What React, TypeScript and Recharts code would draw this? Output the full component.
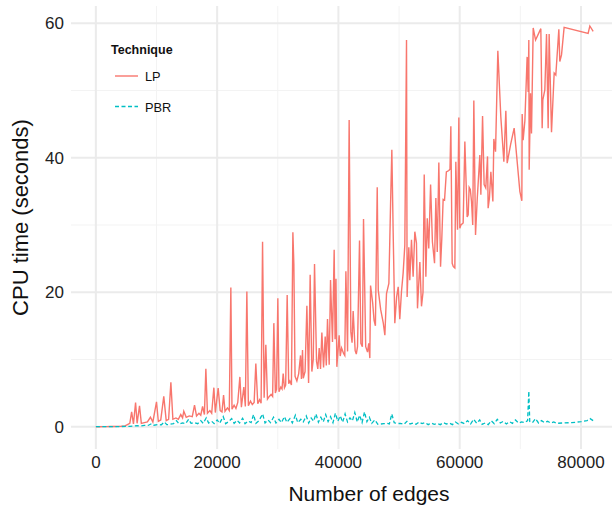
import { LineChart, Line, XAxis, YAxis, CartesianGrid, Legend } from 'recharts'

const FONT = '"Liberation Sans", Arial, Helvetica, sans-serif'
const LP_COLOR = '#F8766D'
const PBR_COLOR = '#00BFC4'

// LP: number of edges vs CPU seconds
const lpEdges = [
  0, 600, 1200, 1800, 2400, 3000, 3600, 4200, 4800, 5200, 5600, 5900, 6200, 6550, 6800, 7200, 7500, 8000, 8500, 9000,
  9400, 10000, 10300, 10700, 11200, 11600, 12000, 12370, 12700, 13200, 13600, 14000, 14300, 14500, 14900, 15400, 15900,
  16270, 16600, 17000, 17300, 17600, 17900, 18140, 18400, 18800, 19100, 19460, 19700, 20170, 20500, 20800, 21060, 21300,
  21700, 22000, 22260, 22450, 22800, 23100, 23400, 23750, 24000, 24400, 24650, 24900, 25150, 25500, 25800, 26100, 26380,
  26700, 27000, 27250, 27490, 27750, 28030, 28300, 28600, 28900, 29150, 29350, 29600, 29800, 30010, 30200, 30500, 30700,
  30890, 31100, 31300, 31550, 31800, 32000, 32250, 32490, 32650, 32850, 33150, 33450, 33750, 33900, 34080, 34200, 34500,
  34800, 35080, 35340, 35620, 35850, 36060, 36390, 36600, 36830, 37050, 37270, 37550, 37820, 38000, 38200, 38480, 38700,
  39020, 39300, 39450, 39600, 39740, 40120, 40300, 40520, 40850, 41050, 41230, 41510, 41770, 42050, 42250, 42430, 42760,
  42950, 43150, 43480, 43700, 43950, 44140, 44500, 44800, 45000, 45180, 45300, 45650, 45880, 46100, 46400, 46570, 46970,
  47400, 47660, 47930, 48320, 48600, 48810, 49030, 49300, 49600, 49860, 50120, 50400, 50670, 50950, 51230, 51330, 51610,
  51770, 52050, 52320, 52600, 52870, 53040, 53430, 53700, 53950, 54150, 54420, 54650, 54900, 55200, 55500, 55850, 56070,
  56300, 56560, 56840, 57050, 57270, 57500, 57800, 58210, 58400, 58540, 58760, 58950, 59200, 59360, 59640, 59860, 60020,
  60200, 60570, 60850, 61230, 61400, 61560, 61750, 61950, 62150, 62330, 62610, 62900, 63320, 63490, 63770, 64030, 64300,
  64590, 64690, 64900, 65140, 65470, 65630, 65910, 66290, 66780, 67280, 67610, 67830, 68400, 68980, 69920, 70250, 70300,
  70460, 70750, 71120, 71290, 71400, 71460, 71680, 71840, 72120, 72510, 73380, 73600, 73710, 74040, 74320, 74590, 74750,
  75140, 75580, 75850, 76350, 76510, 76790, 77220, 81180, 81460, 82010,
]
const lpSeconds = [
  0, 0, 0.01, 0.01, 0.02, 0.03, 0.05, 0.07, 0.12, 0.3, 0.5, 2.2, 0.4, 3.6, 0.5, 3.1, 0.5, 0.6, 0.7, 1.4,
  0.7, 3.7, 0.8, 1.0, 4.5, 0.9, 1.1, 6.6, 1.1, 1.3, 1.1, 1.8, 1.3, 2.3, 1.4, 1.6, 1.5,
  3.2, 1.6, 2.0, 1.7, 3.0, 1.8, 8.6, 2.0, 2.4, 2.0, 5.8, 2.1, 5.75, 2.4, 2.2, 4.7, 2.3,
  2.8, 2.4, 20.7, 2.6, 3.2, 2.7, 3.6, 7.4, 2.9, 5.9, 3.0, 20.1, 3.1, 3.8, 3.3, 3.6, 9.4,
  3.4, 4.0, 3.5, 27.5, 4.3, 12.2, 4.1, 4.5, 4.8, 4.5, 15.4, 5.0, 5.6, 19.1, 5.2, 5.9, 5.6,
  7.9, 5.8, 6.2, 19.6, 6.4, 6.8, 6.2, 28.9, 24.2, 7.5, 6.8, 7.9, 10.6, 7.1, 11.4, 7.2, 8.2,
  18.0, 6.5, 22.6, 8.2, 10.0, 24.2, 9.7, 8.6, 11.7, 8.6, 14.0, 8.8, 13.4, 9.1, 16.0, 9.2, 21.8,
  12.6, 26.3, 13.0, 22.0, 8.9, 13.6, 10.5, 11.7, 10.9, 10.6, 23.1, 11.2, 45.6, 14.1, 12.5, 17.2, 11.3,
  10.8, 11.9, 27.7, 12.4, 11.9, 30.9, 11.9, 11.1, 12.4, 10.2, 21.0, 18.4, 15.8, 15.0, 35.6, 20.3, 17.4,
  15.4, 13.6, 19.8, 21.3, 33.1, 41.2, 28.8, 15.4, 19.3, 20.8, 16.0, 20.1, 22.8, 27.0, 57.5, 19.3, 26.7,
  21.8, 27.8, 22.3, 29.0, 27.3, 17.6, 24.5, 17.9, 20.0, 37.5, 22.3, 31.0, 26.5, 36.0, 27.5, 24.3, 34.0,
  26.0, 39.3, 23.8, 28.0, 33.8, 33.7, 37.9, 38.1, 38.3, 44.7, 24.3, 23.8, 23.6, 39.4, 29.3, 46.0, 29.5,
  30.0, 30.3, 42.4, 31.2, 31.5, 35.6, 35.3, 33.5, 30.0, 48.5, 28.5, 34.0, 40.4, 34.5, 46.2, 36.0, 35.5,
  40.2, 32.5, 34.0, 37.9, 33.5, 42.8, 40.9, 55.9, 46.1, 39.4, 47.0, 39.2, 42.0, 44.4, 35.0, 33.6, 46.5,
  42.6, 45.5, 55.0, 49.8, 57.5, 38.2, 49.6, 43.6, 59.3, 57.5, 59.2, 44.4, 48.6, 50.1, 58.4, 44.4, 58.4,
  43.8, 52.6, 52.3, 59.1, 54.3, 55.3, 59.4, 58.5, 59.6, 58.8,
]

// PBR: number of edges vs CPU seconds
const pbrEdges = [
  0, 1000, 2000, 3000, 4000, 5000, 5600, 6200, 6800, 7400, 8000, 8600, 9200, 9600, 10200, 10800, 11300, 11700, 12200,
  12800, 13300, 13700, 14300, 14800, 15300, 15700, 16300, 16800, 17300, 17700, 18200, 18600, 19100, 19500, 20000, 20400,
  21000, 21400, 21900, 22400, 22800, 23300, 23700, 24200, 24600, 25100, 25600, 26000, 26400, 26900, 27500, 27900, 28400,
  28800, 29300, 29700, 30200, 30600, 31100, 31500, 32000, 32400, 32900, 33300, 33800, 34200, 34700, 35100, 35500, 35900,
  36300, 36700, 37100, 37500, 37900, 38300, 38700, 39100, 39500, 39900, 40300, 40700, 41100, 41500, 41900, 42300, 42700,
  43100, 43500, 43900, 44300, 44700, 45100, 45500, 46000, 46500, 47000, 47500, 48000, 48400, 48800, 49200, 49700, 50200,
  50800, 51300, 51800, 52300, 52800, 53300, 53800, 54300, 54800, 55300, 55800, 56300, 56800, 57300, 57800, 58300, 58800,
  59300, 59800, 60300, 60800, 61300, 61800, 62300, 62800, 63300, 63700, 64200, 64700, 65200, 65700, 66200, 66700, 67200,
  67700, 68200, 68700, 69200, 69700, 70200, 70700, 71200, 71400, 71550, 72000, 72500, 73000, 73500, 74000, 74500, 75000,
  75500, 76000, 77000, 78500, 80000, 81000, 81500, 82000,
]
const pbrSeconds = [
  0, 0, 0.01, 0.01, 0.02, 0.04, 0.06, 0.1, 0.14, 0.12, 0.2, 0.18, 0.45, 0.22, 0.3, 0.28, 0.7, 0.3, 0.35,
  0.45, 0.9, 0.4, 0.55, 0.45, 1.1, 0.5, 0.6, 0.45, 0.9, 0.5, 1.3, 0.55, 0.8, 0.45, 1.0, 0.5,
  1.5, 0.45, 0.75, 1.2, 0.5, 0.95, 0.55, 1.25, 0.45, 0.85, 0.6, 1.8, 0.5, 0.9, 1.9, 0.55, 1.0,
  0.6, 1.4, 0.55, 1.1, 0.6, 1.5, 0.65, 1.2, 0.55, 1.7, 0.6, 1.1, 0.7, 1.6, 0.55, 1.3, 0.8,
  1.9, 0.65, 1.4, 0.7, 1.8, 0.75, 1.5, 0.6, 2.0, 0.8, 1.6, 0.65, 1.9, 0.7, 1.3, 0.85, 2.1,
  0.7, 1.7, 0.6, 2.2, 0.75, 1.4, 0.5, 1.0, 0.35, 0.4, 0.45, 0.5, 0.4, 1.9, 0.6, 0.45, 0.5,
  0.35, 0.8, 0.4, 0.55, 0.35, 0.7, 0.45, 0.6, 0.3, 0.55, 0.35, 0.45, 0.3, 0.6, 0.4, 0.55, 0.3,
  0.7, 0.4, 0.65, 0.45, 0.9, 0.4, 1.1, 0.5, 1.0, 0.35, 0.55, 0.3, 0.9, 0.45, 1.1, 0.55, 0.8,
  0.4, 0.75, 0.5, 1.0, 0.55, 0.7, 0.6, 0.9, 5.3, 0.8, 0.6, 1.2, 0.55, 0.9, 0.6, 0.8, 0.55,
  0.7, 0.5, 0.55, 0.6, 0.75, 0.9, 1.2, 0.9,
]

const xMajor = [0, 20000, 40000, 60000, 80000]
const xMinor = [10000, 30000, 50000, 70000]
const yMajor = [0, 20, 40, 60]
const yMinor = [10, 30, 50]

const lpData = lpEdges.map((edges, i) => ({ edges, seconds: lpSeconds[i] }))
const pbrData = pbrEdges.map((edges, i) => ({ edges, seconds: pbrSeconds[i] }))

function TechniqueLegend() {
  return (
    <svg width={200} height={130} style={{ fontFamily: FONT }}>
      <text x={111} y={54} fontSize={12.5} fontWeight="bold" fill="#111">Technique</text>
      <line x1={115} x2={138} y1={76} y2={76} stroke={LP_COLOR} strokeWidth={1.4} />
      <text x={145} y={81} fontSize={12.8} fill="#111">LP</text>
      <line x1={115} x2={138} y1={106.5} y2={106.5} stroke={PBR_COLOR} strokeWidth={1.4} strokeDasharray="4 2.5" />
      <text x={145} y={111.5} fontSize={12.8} fill="#111">PBR</text>
    </svg>
  )
}

// rotated y title, nudged a little above the panel centre like the source
function YTitle(props: any) {
  const vb = props.viewBox || { x: 0, y: 0, height: 0 }
  const cx = vb.x + 20
  const cy = vb.y + vb.height / 2 - 10
  return (
    <text
      x={cx}
      y={cy}
      transform={`rotate(-90 ${cx} ${cy})`}
      textAnchor="middle"
      dominantBaseline="central"
      fontSize={22}
      fill="#111"
      fontFamily={FONT}
    >
      CPU time (seconds)
    </text>
  )
}

export default function App() {
  return (
    <div style={{ position: 'absolute', left: 0, top: 0, width: 612, height: 507, overflow: 'hidden', background: '#fff' }}>
      <LineChart width={667} height={507} margin={{ top: 6, right: 0, bottom: 0, left: 0 }}>
        <CartesianGrid
          horizontalValues={yMinor}
          verticalValues={xMinor}
          stroke="#F3F3F3"
          strokeWidth={1}
        />
        <CartesianGrid
          horizontalValues={yMajor}
          verticalValues={xMajor}
          stroke="#EBEBEB"
          strokeWidth={2}
        />
        <XAxis
          type="number"
          dataKey="edges"
          domain={[-4100, 94186]}
          allowDataOverflow
          ticks={xMajor}
          tickLine={false}
          axisLine={false}
          height={58}
          tickMargin={1}
          tick={{ fontSize: 17, fill: '#222', fontFamily: FONT }}
          label={{ value: 'Number of edges', position: 'insideBottom', offset: 6, fontSize: 21, fill: '#111', fontFamily: FONT }}
        />
        <YAxis
          type="number"
          domain={[-3.32, 62.57]}
          allowDataOverflow
          ticks={yMajor}
          tickLine={false}
          axisLine={false}
          width={71}
          tickMargin={1}
          tick={{ fontSize: 17, fill: '#222', fontFamily: FONT }}
          label={<YTitle />}
        />
        <Legend
          layout="vertical"
          align="center"
          verticalAlign="middle"
          wrapperStyle={{ left: 0, top: 0, width: 200, height: 130 }}
          content={() => <TechniqueLegend />}
        />
        <Line
          data={lpData}
          dataKey="seconds"
          name="LP"
          type="linear"
          stroke={LP_COLOR}
          strokeWidth={1.4}
          dot={false}
          isAnimationActive={false}
        />
        <Line
          data={pbrData}
          dataKey="seconds"
          name="PBR"
          type="linear"
          stroke={PBR_COLOR}
          strokeWidth={1.3}
          strokeDasharray="4 2.5"
          dot={false}
          isAnimationActive={false}
        />
      </LineChart>
    </div>
  )
}
